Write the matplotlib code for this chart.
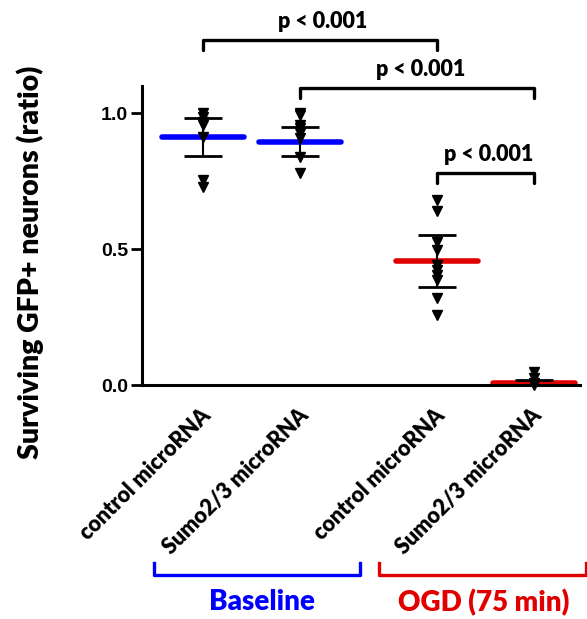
import matplotlib.pyplot as plt
import numpy as np
from matplotlib.transforms import ScaledTranslation

# data
groups = ["control microRNA", "Sumo2/3 microRNA", "control microRNA", "Sumo2/3 microRNA"]
xpos = [1.0, 2.0, 3.4, 4.4]
pts_ctrl_base = [1.0, 0.985, 0.967, 0.956, 0.912, 0.754, 0.728]
pts_sumo_base = [1.0, 0.993, 0.956, 0.945, 0.926, 0.908, 0.838, 0.779]
pts_ctrl_ogd = [0.680, 0.641, 0.527, 0.496, 0.441, 0.423, 0.404, 0.386, 0.320, 0.257]
pts_sumo_ogd = [0.049, 0.026, 0.007, 0.0]
means = [0.913, 0.895, 0.456, 0.008]
sds = [0.07, 0.053, 0.095, 0.012]
mean_colors = ["#0000ff", "#0000ff", "#e00000", "#e00000"]
pvals = ["p < 0.001", "p < 0.001", "p < 0.001"]
comparisons = [(0, 2, 1.268), (1, 3, 1.092), (2, 3, 0.779)]

points = [pts_ctrl_base, pts_sumo_base, pts_ctrl_ogd, pts_sumo_ogd]

calibri = "Lato"
wt = "heavy"
arial = "Liberation Sans"

fig = plt.figure(figsize=(5.87, 6.19), dpi=100)
ax = fig.add_axes([0.2419, 0.378, 0.988 - 0.2419, 0.861 - 0.378])

for x, m, s, c, p in zip(xpos, means, sds, mean_colors, points):
    ax.plot([x - 0.42, x + 0.42], [m, m], color=c, lw=4, solid_capstyle="round", zorder=2)
    ax.errorbar(x, m, yerr=s, fmt="none", ecolor="black", elinewidth=1.5,
                capsize=14, capthick=2, zorder=3)
    ax.plot([x] * len(p), p, "v", color="black", ms=7, zorder=4, clip_on=False)

# significance brackets
for (i, j, y), txt in zip(comparisons, pvals):
    x1, x2 = xpos[i], xpos[j]
    ax.plot([x1, x1, x2, x2], [y - 0.036, y, y, y - 0.036], color="black", lw=2.4,
            solid_capstyle="round", solid_joinstyle="round", clip_on=False)
    ax.text((x1 + x2) / 2 + 0.03, y + 0.03, txt, ha="center", va="bottom",
            fontsize=15.5, fontweight=wt, family=calibri)

# group brackets below
ax.plot([0.497, 0.497, 2.617, 2.617], [-0.654, -0.699, -0.699, -0.654], color="#0000ff",
        lw=2.4, clip_on=False)
ax.plot([2.805, 2.805, 4.935, 4.935], [-0.654, -0.699, -0.699, -0.654], color="#e00000",
        lw=2.4, clip_on=False)
ax.text(1.61, -0.80, "Baseline", ha="center", va="center", color="#0000ff",
        fontsize=20, fontweight=wt, family=calibri)
ax.text(3.88, -0.80, "OGD (75 min)", ha="center", va="center", color="#e00000",
        fontsize=20, fontweight=wt, family=calibri)

ax.set_xlim(0.374, 4.87)
ax.set_ylim(0, 1.1)
ax.set_yticks([0.0, 0.5, 1.0])
ax.set_yticklabels(["0.0", "0.5", "1.0"], fontsize=14, fontweight="bold", family=arial)
ax.set_xticks(xpos)
ax.set_xticklabels(groups, rotation=45, ha="right", va="top", rotation_mode="anchor",
                   fontsize=15.5, fontweight=wt, family=calibri)
ax.tick_params(axis="x", length=0, pad=14)
ax.tick_params(axis="y", length=8, width=2, pad=2)
for lab in ax.get_xticklabels():
    lab.set_transform(lab.get_transform() + ScaledTranslation(-0.03, 0, fig.dpi_scale_trans))

for side in ["top", "right"]:
    ax.spines[side].set_visible(False)
ax.spines["left"].set_linewidth(2.2)
ax.spines["bottom"].set_linewidth(2.2)

fig.text(30 / 587, 1 - 262 / 619, "Surviving GFP+ neurons (ratio)", rotation=90,
         ha="center", va="center", fontsize=20.5, fontweight=wt, family=calibri)

fig.savefig("out.png", dpi=100)
